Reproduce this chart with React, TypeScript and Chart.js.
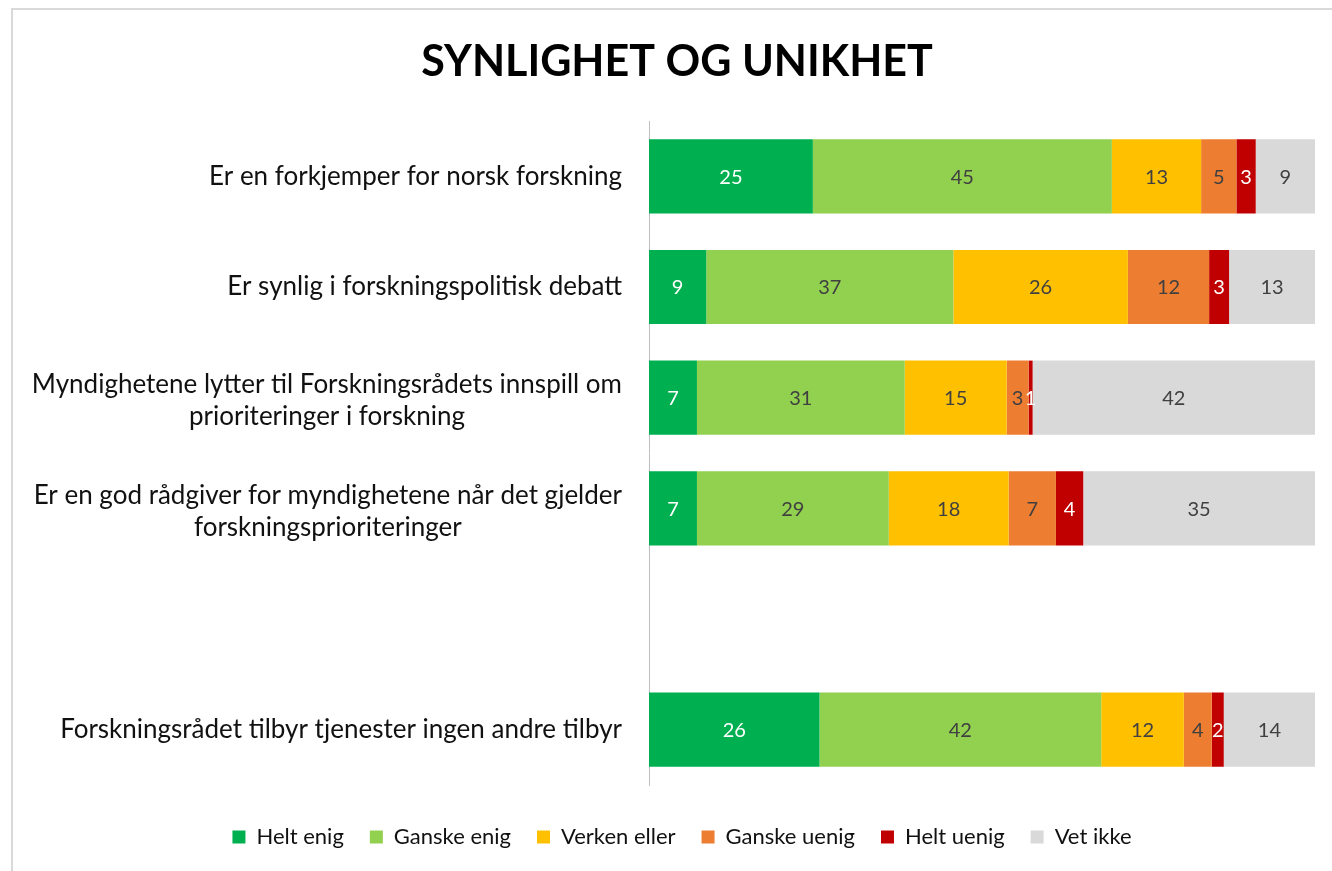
import { useEffect, useRef } from "react";
import { Chart, registerables } from "chart.js";

Chart.register(...registerables);

const TITLE = "SYNLIGHET OG UNIKHET";

const categories: string[][] = [
  ["Er en forkjemper for norsk forskning"],
  ["Er synlig i forskningspolitisk debatt"],
  ["Myndighetene lytter til Forskningsrådets innspill om", "prioriteringer i forskning"],
  ["Er en god rådgiver for myndighetene når det gjelder", "forskningsprioriteringer"],
  [""],
  ["Forskningsrådet tilbyr tjenester ingen andre tilbyr"],
];

const seriesNames = ["Helt enig", "Ganske enig", "Verken eller", "Ganske uenig", "Helt uenig", "Vet ikke"];

const heltEnig = [24.6, 8.6, 7.2, 7.2, null, 25.6];
const ganskeEnig = [44.9, 37.1, 31.2, 28.8, null, 42.3];
const verkenEller = [13.4, 26.2, 15.3, 18.0, null, 12.4];
const ganskeUenig = [5.3, 12.2, 3.3, 7.1, null, 4.2];
const heltUenig = [2.9, 3.0, 0.6, 4.1, null, 1.8];
const vetIkke = [8.9, 12.9, 42.4, 34.8, null, 13.7];

const seriesColors = ["#00B050", "#92D050", "#FFC000", "#ED7D31", "#C00000", "#D9D9D9"];
const labelColors = ["#ffffff", "#404040", "#404040", "#404040", "#ffffff", "#404040"];

const FONT = "Lato, 'Noto Sans', sans-serif";

const textPlugin = {
  id: "customText",
  afterDatasetsDraw(chart: any) {
    const ctx = chart.ctx;
    ctx.save();
    ctx.font = `20px ${FONT}`;
    ctx.textAlign = "center";
    ctx.textBaseline = "middle";
    chart.data.datasets.forEach((ds: any, di: number) => {
      const meta = chart.getDatasetMeta(di);
      meta.data.forEach((bar: any, i: number) => {
        const v = ds.data[i];
        if (v == null) return;
        const p = bar.getProps(["x", "base", "y"], true);
        ctx.fillStyle = labelColors[di];
        ctx.fillText(String(Math.round(v)), (p.x + p.base) / 2, p.y + 1);
      });
    });
    ctx.restore();
  },
  afterDraw(chart: any) {
    const ctx = chart.ctx;
    const yScale = chart.scales.y;
    ctx.save();
    // title
    ctx.font = `bold 43px ${FONT}`;
    ctx.fillStyle = "#000000";
    ctx.textAlign = "center";
    ctx.textBaseline = "middle";
    ctx.fillText(TITLE, 677, 62);
    // category labels
    ctx.font = `26px ${FONT}`;
    ctx.fillStyle = "#111111";
    const rightEdge = chart.chartArea.left - 27;
    const lineH = 32;
    categories.forEach((lines, i) => {
      const cy = yScale.getPixelForValue(i);
      const maxW = Math.max(...lines.map((l) => ctx.measureText(l).width));
      const cx = rightEdge - maxW / 2;
      const startY = cy - ((lines.length - 1) * lineH) / 2 + (lines.length > 1 ? 3 : 0);
      lines.forEach((l, li) => {
        ctx.fillText(l, cx, startY + li * lineH);
      });
    });
    ctx.restore();
  },
};

export default function App() {
  const ref = useRef<HTMLCanvasElement | null>(null);

  useEffect(() => {
    if (!ref.current) return;
    const allSeries = [heltEnig, ganskeEnig, verkenEller, ganskeUenig, heltUenig, vetIkke];
    const chart = new Chart(ref.current, {
      type: "bar",
      data: {
        labels: categories.map((c) => c.join(" ")),
        datasets: allSeries.map((d, i) => ({
          label: seriesNames[i],
          data: d as any,
          backgroundColor: seriesColors[i],
          borderWidth: 0,
          barPercentage: 1,
          categoryPercentage: 0.67,
        })),
      },
      options: {
        indexAxis: "y",
        animation: false,
        responsive: false,
        devicePixelRatio: 1,
        layout: { padding: { left: 49, right: 17, top: 121, bottom: 13 } },
        scales: {
          x: {
            stacked: true,
            min: 0,
            max: 100,
            display: true,
            ticks: { display: false },
            grid: { display: false, drawTicks: false },
            border: { display: false },
            afterFit: (s: any) => {
              s.height = 15;
            },
          },
          y: {
            stacked: true,
            display: true,
            ticks: { display: false },
            grid: { display: false, drawTicks: false },
            border: { display: true, color: "#bfbfbf", width: 1 },
            afterFit: (s: any) => {
              s.width = 600;
            },
          },
        },
        plugins: {
          title: { display: false },
          tooltip: { enabled: false },
          legend: {
            display: true,
            position: "bottom",
            labels: {
              boxWidth: 13,
              boxHeight: 13,
              padding: 26,
              color: "#111111",
              font: { family: FONT, size: 22 },
            },
          },
        },
      } as any,
      plugins: [textPlugin],
    });
    return () => chart.destroy();
  }, []);

  return (
    <div
      style={{
        position: "fixed",
        left: 0,
        top: 0,
        width: 1332,
        height: 871,
        overflow: "hidden",
        background: "#ffffff",
      }}
    >
      <div
        style={{
          position: "absolute",
          left: 11,
          top: 8,
          width: 1400,
          height: 1000,
          border: "2px solid #d9d9d9",
          boxSizing: "border-box",
        }}
      />
      <canvas
        ref={ref}
        width={1332}
        height={871}
        style={{ position: "absolute", left: 0, top: 0, width: 1332, height: 871 }}
      />
    </div>
  );
}
